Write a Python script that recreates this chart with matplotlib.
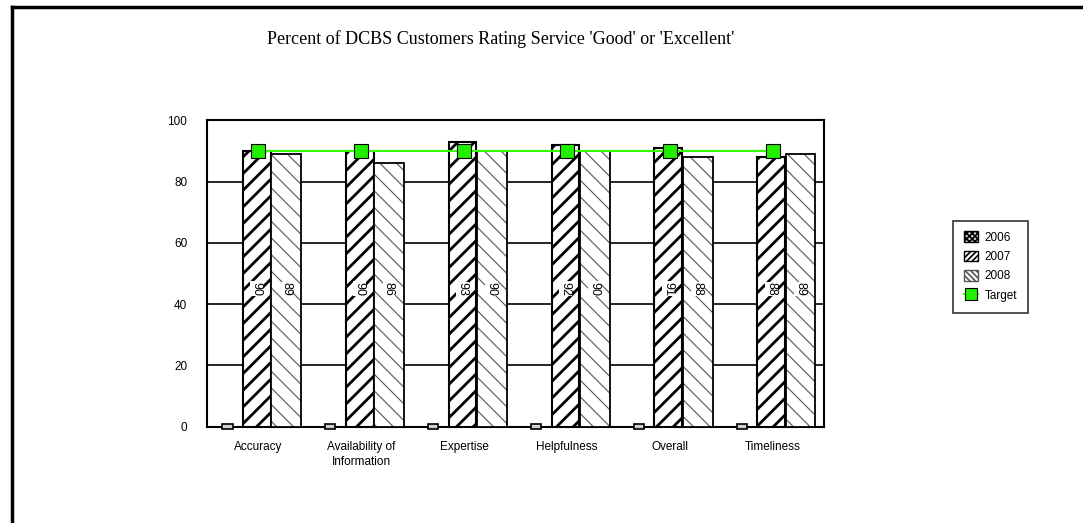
import numpy as np
import matplotlib.pyplot as plt
from matplotlib.lines import Line2D
from matplotlib.patches import Patch

# Data
categories = ["Accuracy", "Availability of\nInformation", "Expertise",
              "Helpfulness", "Overall", "Timeliness"]
y2006 = [0, 0, 0, 0, 0, 0]
y2007 = [90, 90, 93, 92, 91, 88]
y2008 = [89, 86, 90, 90, 88, 89]
target = [90, 90, 90, 90, 90, 90]

x = np.arange(len(categories))

fig = plt.figure(figsize=(10.83, 5.23), dpi=100)
ax = fig.add_axes([0.191, 0.184, 0.570, 0.586])

# 2006 (all zero) drawn as tiny boxes on the axis
ax.bar(x - 0.3, np.array(y2006) + 1.5, bottom=-0.75, width=0.1,
       facecolor="#d0d0d0", edgecolor="black", lw=1.2, clip_on=False, zorder=3)

# 2007 bold hatch
plt.rcParams['hatch.linewidth'] = 2.0
ax.bar(x - 0.015, y2007, width=0.27, facecolor="white", edgecolor="black",
       hatch="//", lw=1.5, zorder=3)

# 2008 thin grey hatch
plt.rcParams['hatch.linewidth'] = 0.8
ax.bar(x + 0.27, y2008, width=0.29, facecolor="white", edgecolor="#555555",
       hatch="\\\\", lw=0, zorder=3)
ax.bar(x + 0.27, y2008, width=0.29, fill=False, edgecolor="black",
       lw=1.3, zorder=3)

# value labels, rotated
for i in range(len(categories)):
    ax.text(x[i] - 0.015, 45, str(y2007[i]), rotation=-90, ha="center",
            va="center", fontsize=9, family="Liberation Sans", zorder=5,
            bbox=dict(facecolor="white", edgecolor="none", pad=0.3))
    ax.text(x[i] + 0.27, 45, str(y2008[i]), rotation=-90, ha="center",
            va="center", fontsize=9, family="Liberation Sans", zorder=5,
            bbox=dict(facecolor="white", edgecolor="none", pad=0.3))

# target line
ax.plot(x, target, color="#33ff00", lw=1.5, marker="s", ms=9.5,
        mfc="#22ee00", mec="black", mew=0.8, zorder=6)

ax.set_xlim(-0.5, len(categories) - 0.5)
ax.set_ylim(0, 100)
ax.set_yticks([0, 20, 40, 60, 80, 100])
ax.yaxis.grid(True, color="black", lw=1.2)
ax.set_axisbelow(True)
ax.set_xticks(x)
ax.set_xticklabels(categories, family="Liberation Sans", fontsize=8.5,
                   linespacing=1.4)
ax.tick_params(axis="x", length=0, pad=10)
ax.tick_params(axis="y", length=0, pad=14, labelsize=8.5)
for lab in ax.get_yticklabels():
    lab.set_family("Liberation Sans")
for s in ax.spines.values():
    s.set_linewidth(1.5)

fig.text(0.462, 0.925, "Percent of DCBS Customers Rating Service 'Good' or 'Excellent'",
         ha="center", va="center", fontsize=13, family="Liberation Serif")

plt.rcParams['hatch.linewidth'] = 1.2
handles = [
    Patch(facecolor="#d0d0d0", edgecolor="black", hatch="xxxxxx", label="2006"),
    Patch(facecolor="white", edgecolor="black", hatch="//////", label="2007"),
    Patch(facecolor="white", edgecolor="#555555", hatch="\\\\\\\\\\\\", label="2008"),
    Line2D([0], [0], color="#33ff00", marker="s", ms=9, mfc="#22ee00",
           mec="black", mew=0.8, label="Target"),
]
leg = fig.legend(handles=handles, loc="upper left", bbox_to_anchor=(0.880, 0.578),
                 frameon=True, fancybox=False, edgecolor="black",
                 handlelength=1.2, handleheight=1.0, handletextpad=0.6,
                 borderpad=0.9, borderaxespad=0, labelspacing=0.6,
                 prop={"family": "Liberation Sans", "size": 8.5})
leg.get_frame().set_linewidth(1.2)

# outer frame (top and left edges)
fig.add_artist(Line2D([0.0111, 1.0], [0.9857, 0.9857], color="black", lw=2.5,
                      transform=fig.transFigure))
fig.add_artist(Line2D([0.0111, 0.0111], [0.0, 0.9857], color="black", lw=2.5,
                      transform=fig.transFigure))

fig.savefig("out.png", dpi=100)
